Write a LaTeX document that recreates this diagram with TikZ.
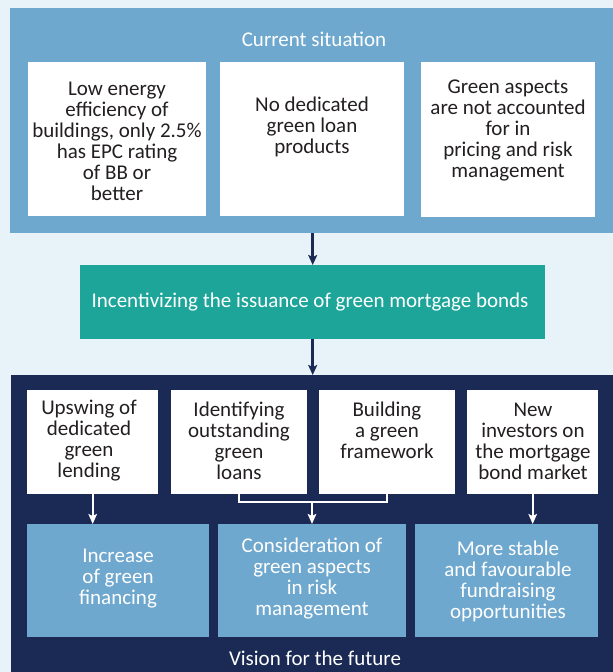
\documentclass[tikz,border=0pt]{standalone}
\usepackage{fontspec}
\setmainfont{Carlito}
\usetikzlibrary{arrows.meta}
\definecolor{bgpale}{HTML}{E8F3F9}
\definecolor{midblue}{HTML}{6FA8CE}
\definecolor{tealbox}{HTML}{1DA59A}
\definecolor{navyband}{HTML}{1A2A54}
\definecolor{ink}{HTML}{231F20}
\begin{document}
\begin{tikzpicture}[x=1pt,y=-1pt,
  font=\fontsize{21}{21}\selectfont,
  panel/.style={draw=none,inner sep=0pt,anchor=north west},
  card/.style={panel,fill=white},
  txt/.style={align=center,inner sep=0pt,text=ink},
  wtxt/.style={align=center,inner sep=0pt,text=white},
  darrow/.style={draw=navyband,line width=2.6pt,-{Stealth[length=10pt,width=9pt,inset=2pt]}},
  warrow/.style={draw=white,line width=2pt,-{Stealth[length=10pt,width=8.5pt,inset=2pt]}},
  wline/.style={draw=white,line width=2pt}]
  % page background
  \fill[bgpale] (0,0) rectangle (613,672);
  \useasboundingbox (0,0) rectangle (613,672);

  % current situation panel
  \node[panel,fill=midblue,minimum width=603pt,minimum height=225pt] (cur) at (10,8) {};
  \node[wtxt] (curtitle) at (314,39) {Current situation};
  \node[card,minimum width=178pt,minimum height=154pt] (s1) at (28,62) {};
  \node[card,minimum width=184pt,minimum height=154pt] (s2) at (220,62) {};
  \node[card,minimum width=174pt,minimum height=155pt] (s3) at (421,62) {};
  \node[txt] (s1t) at (117,141) {Low energy\\efficiency of\\buildings, only 2.5\%\\has EPC rating\\of BB or\\better};
  \node[txt] (s2t) at (312,127) {No dedicated\\green loan\\products};
  \node[txt] (s3t) at (508,130) {Green aspects\\are not accounted\\for in\\pricing and risk\\management};

  % middle step
  \node[panel,fill=tealbox,minimum width=465pt,minimum height=74pt] (inc) at (80,265) {};
  \node[wtxt] (inct) at (310,302) {Incentivizing the issuance of green mortgage bonds};

  % vision panel
  \node[panel,fill=navyband,minimum width=602pt,minimum height=300pt] (vis) at (11,375) {};
  \node[card,minimum width=131pt,minimum height=104pt] (b1) at (27,390) {};
  \node[card,minimum width=136pt,minimum height=104pt] (b2) at (171,390) {};
  \node[card,minimum width=136pt,minimum height=104pt] (b3) at (319,390) {};
  \node[card,minimum width=131pt,minimum height=104pt] (b4) at (467,390) {};
  \node[txt] (b1t) at (89,441) {Upswing of\\dedicated\\green\\lending};
  \node[txt] (b2t) at (239,441) {Identifying\\outstanding\\green\\loans};
  \node[txt] (b3t) at (387,430) {Building\\a green\\framework};
  \node[txt] (b4t) at (533,441) {New\\investors on\\the mortgage\\bond market};

  \node[panel,fill=midblue,minimum width=182pt,minimum height=113pt] (c1) at (27,524) {};
  \node[panel,fill=midblue,minimum width=188pt,minimum height=113pt] (c2) at (218,524) {};
  \node[panel,fill=midblue,minimum width=183pt,minimum height=113pt] (c3) at (415,524) {};
  \node[wtxt] (c1t) at (118,579) {Increase\\of green\\financing};
  \node[wtxt] (c2t) at (312,579) {Consideration of\\green aspects\\in risk\\management};
  \node[wtxt] (c3t) at (508,581) {More stable\\and favourable\\fundraising\\opportunities};

  \node[wtxt] (vist) at (315,658) {Vision for the future};

  % connectors
  \draw[darrow] (cur.south -| inc.north) -- (inc.north);
  \draw[darrow] (inc.south) -- (inc.south |- vis.north);
  \draw[warrow] (b1.south) -- (b1.south |- c1.north);
  \coordinate (brk) at (312,502);
  \draw[wline] (b2.south) -- (b2.south |- brk) -- (b3.south |- brk) -- (b3.south);
  \draw[warrow] (brk) -- (brk |- c2.north);
  \draw[warrow] (b4.south) -- (b4.south |- c3.north);
\end{tikzpicture}
\end{document}
